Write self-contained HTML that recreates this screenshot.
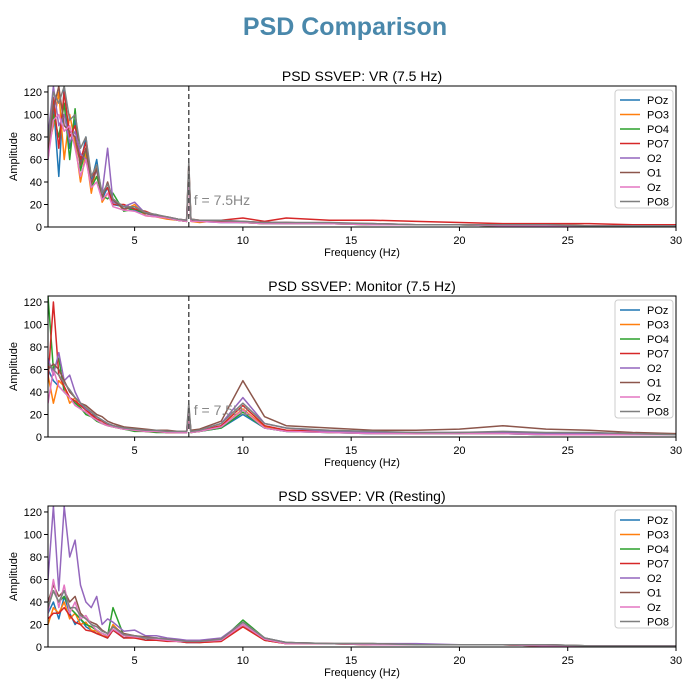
<!DOCTYPE html>
<html><head><meta charset="utf-8"><style>
body{margin:0;background:#fff;font-family:"Liberation Sans","DejaVu Sans",sans-serif}
</style></head><body>
<svg id="fig" width="690" height="684" xmlns="http://www.w3.org/2000/svg" style="display:block">
<text x="345" y="35" text-anchor="middle" font-size="25" font-weight="bold" fill="#4a88ab">PSD Comparison</text>
</svg>
<script>
const freqs=[1,1.25,1.5,1.75,2,2.25,2.5,2.75,3,3.25,3.5,3.75,4,4.5,5,5.5,6,6.5,7,7.4,7.5,7.6,8,9,10,11,12,14,16,18,20,22,24,26,28,30];
const channels=["POz","PO3","PO4","PO7","O2","O1","Oz","PO8"];
const colors=["#1f77b4","#ff7f0e","#2ca02c","#d62728","#9467bd","#8c564b","#e377c2","#7f7f7f"];
const xTicks=[5,10,15,20,25,30];
const yTicks=[0,20,40,60,80,100,120];
const titles=["PSD SSVEP: VR (7.5 Hz)","PSD SSVEP: Monitor (7.5 Hz)","PSD SSVEP: VR (Resting)"];
const markers=[7.5,7.5,null];
const vrPOz=[60,110,45,125,70,95,55,80,40,60,25,35,20,18,15,12,10,8,6,5,50,6,5,4,4,3,3,3,2,2,2,1,1,1,1,1];
const vrPO3=[70,90,120,60,100,75,40,65,30,55,22,30,25,15,20,10,9,7,6,5,45,5,4,6,4,3,4,3,2,2,2,1,1,1,1,1];
const vrPO4=[65,100,80,110,60,105,50,70,35,45,28,25,30,14,16,12,11,8,6,5,52,6,5,5,4,3,3,3,2,2,2,1,2,1,1,1];
const vrPO7=[75,115,70,120,80,90,60,75,45,50,30,35,20,20,16,14,10,9,7,6,55,7,6,6,8,5,8,6,6,5,4,3,3,3,2,2];
const vrO2=[80,125,90,100,75,85,65,60,40,50,30,70,22,18,22,12,10,9,7,6,48,6,5,5,4,4,4,3,3,2,2,2,1,1,1,1];
const vrO1=[70,105,125,90,85,80,55,70,38,52,26,40,24,16,18,12,11,8,6,5,50,6,5,5,5,4,4,3,3,2,2,2,2,1,1,1];
const vrOz=[60,95,100,85,90,70,45,60,35,40,24,30,18,15,14,10,9,8,6,5,46,5,5,4,4,3,3,3,2,2,2,1,1,1,1,1];
const vrPO8=[75,120,110,125,95,100,70,80,45,55,30,38,25,18,18,13,11,9,7,6,58,7,6,6,5,4,4,4,3,2,2,2,2,1,1,1];
const moPOz=[60,50,45,40,35,30,28,25,20,18,15,12,10,8,6,5,5,4,4,4,15,4,5,8,20,8,5,4,3,3,3,3,2,2,2,2];
const moPO3=[55,30,50,45,30,35,25,22,18,15,12,10,9,7,6,5,5,4,4,4,18,4,5,9,25,9,6,4,4,3,3,3,3,2,2,2];
const moPO4=[125,60,70,40,35,30,26,20,18,14,12,10,9,7,5,5,4,4,4,4,20,4,5,8,22,8,5,4,3,3,3,3,2,2,2,2];
const moPO7=[50,120,55,45,35,32,28,24,20,16,14,11,10,8,6,5,5,4,4,4,22,5,6,10,28,10,6,5,4,3,4,4,3,3,2,2];
const moO2=[70,55,75,50,55,40,30,25,22,18,15,12,10,8,7,6,5,5,4,4,25,5,6,12,35,12,8,5,4,4,4,4,3,3,2,2];
const moO1=[60,65,60,50,40,35,30,28,24,20,18,14,12,9,8,7,6,6,5,5,26,6,7,14,50,18,10,8,6,6,7,10,7,6,4,3];
const moOz=[30,60,45,40,35,28,25,22,18,15,12,10,9,7,6,5,5,4,4,4,20,4,5,9,24,8,5,4,3,3,3,3,2,2,2,2];
const moPO8=[65,60,55,48,42,35,30,26,22,18,15,12,10,8,7,6,6,5,5,5,30,5,6,12,30,12,8,6,5,4,4,5,4,4,3,2];
const rsPOz=[30,40,25,45,30,20,25,18,15,12,10,8,15,8,10,6,8,6,5,4,4,4,4,6,20,6,3,3,2,2,2,2,1,1,1,1];
const rsPO3=[20,35,30,40,25,30,20,22,15,14,10,9,20,10,8,8,7,6,5,5,5,5,4,5,18,6,3,3,2,2,2,2,1,1,1,1];
const rsPO4=[35,50,40,45,35,30,25,20,18,15,12,10,35,10,10,8,7,6,5,5,5,5,5,6,24,8,4,3,3,2,2,2,2,1,1,1];
const rsPO7=[25,30,30,35,28,22,20,15,14,12,10,8,15,8,8,6,6,5,5,4,4,4,4,5,18,6,3,3,2,2,2,2,1,1,1,1];
const rsO2=[60,125,50,125,80,95,55,40,35,45,20,25,22,14,15,10,10,8,7,6,6,6,6,8,22,8,4,3,3,3,2,2,2,1,1,1];
const rsO1=[40,55,45,50,40,45,30,25,22,20,15,12,18,12,10,9,8,7,6,5,5,5,5,7,20,7,4,3,3,2,2,2,2,1,1,1];
const rsOz=[30,60,35,55,30,40,25,28,20,15,12,10,16,10,9,8,7,6,5,5,5,5,5,6,20,7,3,3,2,2,2,2,1,1,1,1];
const rsPO8=[35,50,40,50,35,35,28,25,20,18,14,12,18,11,10,8,8,7,6,5,5,5,5,7,22,8,4,3,3,2,2,2,2,1,1,1];
const panelsData=[[vrPOz,vrPO3,vrPO4,vrPO7,vrO2,vrO1,vrOz,vrPO8],[moPOz,moPO3,moPO4,moPO7,moO2,moO1,moOz,moPO8],[rsPOz,rsPO3,rsPO4,rsPO7,rsO2,rsO1,rsOz,rsPO8]];

const NS="http://www.w3.org/2000/svg";
const svg=document.getElementById('fig');
function mk(tag,attrs,parent,text){const e=document.createElementNS(NS,tag);for(const k in attrs)e.setAttribute(k,attrs[k]);if(text!==undefined)e.textContent=text;(parent||svg).appendChild(e);return e;}
const L=48,R=676,H=141,tops=[86,296,506],xMin=1,xMax=30,yMax=125.3;
panelsData.forEach((series,p)=>{
  const T=tops[p],B=T+H;
  const xs=v=>L+(v-xMin)/(xMax-xMin)*(R-L);
  const ys=v=>B-v/yMax*H;
  const g=mk('g',{});
  
  
  const cp=mk('clipPath',{id:'clip'+p},g);
  mk('rect',{x:L,y:T,width:R-L,height:H},cp);
  const t=mk('text',{x:(L+R)/2,y:T-5,'text-anchor':'middle','font-size':'14',fill:'#000'},g,titles[p]);
  
  
  const lines=mk('g',{'clip-path':'url(#clip'+p+')'},g);
  series.forEach((vals,i)=>{
    const d=vals.map((v,j)=>(j?'L':'M')+xs(freqs[j]).toFixed(1)+' '+ys(v).toFixed(1)).join(' ');
    const pl=mk('path',{d:d,fill:'none',stroke:colors[i],'stroke-width':'1.5','stroke-linejoin':'round'},lines);
    
    
  });
  if(markers[p]!==null){
    const ml=mk('line',{x1:xs(markers[p]),x2:xs(markers[p]),y1:T,y2:B,stroke:'#555','stroke-width':'1.5','stroke-dasharray':'5,3'},g);
    
    
    const mt=mk('text',{x:xs(markers[p])+5,y:B-22,'font-size':'14',fill:'#888'},g,'f = 7.5Hz');
    
    
  }
  mk('rect',{x:L,y:T,width:R-L,height:H,fill:'none',stroke:'#000','stroke-width':'1'},g);
  xTicks.forEach(v=>{mk('line',{x1:xs(v),x2:xs(v),y1:B,y2:B+4,stroke:'#000'},g);
    const tl=mk('text',{x:xs(v),y:B+17,'text-anchor':'middle','font-size':'11'},g,String(v));
    
    });
  yTicks.forEach(v=>{mk('line',{x1:L-4,x2:L,y1:ys(v),y2:ys(v),stroke:'#000'},g);
    const tl=mk('text',{x:L-6,y:ys(v)+4,'text-anchor':'end','font-size':'11'},g,String(v));
    
    });
  const xl=mk('text',{x:(L+R)/2,y:B+29,'text-anchor':'middle','font-size':'11'},g,'Frequency (Hz)');
  
  
  const yl=mk('text',{x:17,y:T+H/2,'text-anchor':'middle','font-size':'11',transform:'rotate(-90 17 '+(T+H/2)+')'},g,'Amplitude');
  
  
  const lg=mk('g',{},g);
  
  
  mk('rect',{x:615,y:T+4,width:58,height:118,rx:3,fill:'#fff','fill-opacity':'0.8',stroke:'#ccc'},lg);
  channels.forEach((c,i)=>{
    const y=T+14+i*14.5;
    const e=mk('g',{},lg);
    
    
    mk('line',{x1:620,x2:640,y1:y,y2:y,stroke:colors[i],'stroke-width':'1.5'},e);
    mk('text',{x:647,y:y+4,'font-size':'11'},e,c);
  });
});
</script>
</body></html>
